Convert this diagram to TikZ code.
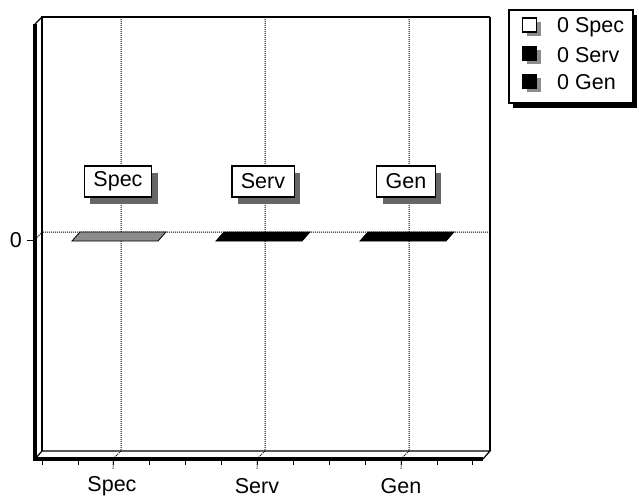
\documentclass[tikz,border=0pt]{standalone}
\usepackage{fontspec}
\setmainfont{Liberation Sans}
\usetikzlibrary{shadows}

\begin{document}
\begin{tikzpicture}[x=1pt, y=-1pt,
  grid/.style={densely dotted, line width=1pt},
  txt/.style={font=\fontsize{21.5}{25}\selectfont, inner sep=0pt},
  catbox/.style={txt, draw, line width=1.2pt, fill=white, minimum height=31pt, inner xsep=9pt,
    drop shadow={shadow xshift=6pt, shadow yshift=-7pt, fill=black!60, opacity=1}},
  keybox/.style={draw, line width=1.2pt, minimum size=14pt, inner sep=0pt,
    drop shadow={shadow xshift=4pt, shadow yshift=-4pt, fill=black!45, opacity=1}}]
\useasboundingbox (0,0) rectangle (639,497);

\draw[line width=1.6pt] (42,451) -- (42,17) -- (490,17);
\draw[line width=2.4pt] (490,17) -- (490,451);
\draw[line width=1.2pt] (42,17) -- (35,24);
\draw[line width=1.2pt] (35,459) -- (42,451) -- (490,451) -- (483,459);
\draw[line width=3.5pt] (35,24) -- (35,459) -- (483,459);

\foreach \x in {121,265,409}
	\draw[grid] (\x,17) -- (\x,451) -- ++(-8,8) -- ++(0,10);
\draw[grid] (490,232) -- (42,232) -- (35,240);
\draw[line width=0.9pt] (27,240) -- (35,240);
\foreach \i in {0,...,12}
	\draw[line width=0.8pt] ({42+35.9*\i},461) -- ++(0,4);

\foreach \x/\c in {121/black!45, 265/black, 409/black}
	\draw[fill=\c, line width=0.8pt] (\x-49,241) -- (\x+37,241) -- (\x+45,232) -- (\x-41,232) -- cycle;

\node[catbox] (specbox) at (118,181.5) {Spec};
\node[catbox] (servbox) at (263,181.5) {Serv};
\node[catbox] (genbox) at (406,181.5) {Gen};

\node[txt] (specx) at (112,486) {Spec};
\node[txt] (servx) at (257,486) {Serv};
\node[txt] (genx) at (401,486) {Gen};
\node[txt, anchor=east] (zero) at (22,240) {0};

\node[draw, line width=1.6pt, fill=white, minimum width=124pt, minimum height=93pt,
  drop shadow={shadow xshift=4pt, shadow yshift=-5pt, fill=black, opacity=1}] (legend) at (571,56.5) {};
\node[keybox, fill=white] (kspec) at (529.5,25) {};
\node[keybox, fill=black] (kserv) at (529.5,53.5) {};
\node[keybox, fill=black] (kgen) at (529.5,81.5) {};
\node[txt, anchor=west] (lspec) at (557,27) {0 Spec};
\node[txt, anchor=west] (lserv) at (557,55) {0 Serv};
\node[txt, anchor=west] (lgen) at (557,82) {0 Gen};
\end{tikzpicture}
\end{document}
